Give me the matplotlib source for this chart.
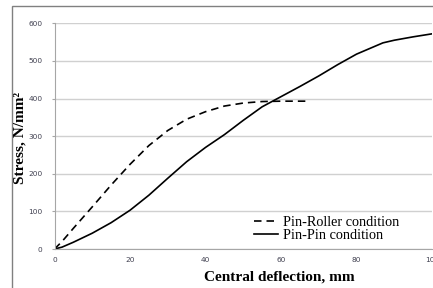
import matplotlib
matplotlib.use("Agg")
import matplotlib.pyplot as plt
from matplotlib.patches import Rectangle

# data
roller_x = [0, 2, 5, 10, 15, 20, 25, 30, 35, 40, 45, 50, 55, 60, 65, 67]
roller_y = [0, 20, 55, 112, 170, 225, 275, 315, 345, 365, 380, 388, 392, 393, 393, 393]

pin_x = [0, 2, 5, 10, 15, 20, 25, 30, 35, 40, 45, 50, 55, 60, 65, 70, 75, 80, 87, 90, 95, 100]
pin_y = [0, 5, 18, 42, 70, 103, 143, 188, 232, 270, 304, 342, 378, 405, 432, 460, 490, 518, 548, 555, 564, 572]

x_ticks = [0, 20, 40, 60, 80, 100]
y_ticks = [0, 100, 200, 300, 400, 500, 600]

W, H = 433, 288
fig = plt.figure(figsize=(W / 100, H / 100), dpi=100)

# outer chart frame (only left and top edges are visible)
fig.patches.append(Rectangle((11.5 / W, -0.5), 1.5, 1.5 - 6 / H, transform=fig.transFigure,
                             fill=False, edgecolor='#808080', lw=1))

ax = fig.add_axes([54.5 / W, 1 - 249 / H, (432 - 54.5) / W, (249 - 23.3) / H])

ax.plot(roller_x, roller_y, color='black', lw=1.2, dashes=(4.5, 3), label='Pin-Roller condition')
ax.plot(pin_x, pin_y, color='black', lw=1.2, label='Pin-Pin condition')

ax.set_xlim(0, 100)
ax.set_ylim(0, 600)
ax.set_xticks(x_ticks)
ax.set_yticks(y_ticks)
ax.grid(axis='y', color='#d0d0d0', lw=1)
ax.set_axisbelow(True)
for s in ['top', 'right']:
    ax.spines[s].set_visible(False)
for s in ['left', 'bottom']:
    ax.spines[s].set_color('#a6a6a6')
ax.tick_params(axis='y', length=2.5, color='#a6a6a6', labelsize=5.3, labelcolor='#404050', pad=6)
ax.tick_params(axis='x', length=0, labelsize=5.3, labelcolor='#404050', pad=6)

fig.text(20 / W, 1 - 138 / H, 'Stress, N/mm²', rotation=90, ha='center', va='center',
         family='Liberation Serif', weight='bold', fontsize=11)
fig.text(279 / W, 1 - 277 / H, 'Central deflection, mm', ha='center', va='center',
         family='Liberation Serif', weight='bold', fontsize=11)

ax.legend(loc='center left', bbox_to_anchor=(247 / W, 1 - 229 / H), bbox_transform=fig.transFigure,
          frameon=False, prop={'family': 'Liberation Serif', 'size': 10.3}, borderpad=0,
          handlelength=1.7, handletextpad=0.3, labelspacing=0.0)

fig.savefig('out.png', dpi=100)
